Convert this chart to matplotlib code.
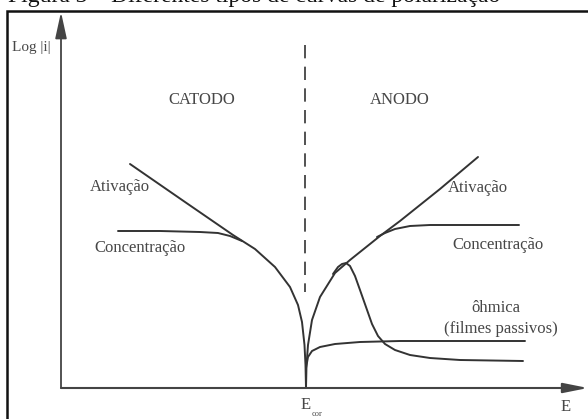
import numpy as np
import matplotlib.pyplot as plt
from matplotlib.patches import Rectangle

# potential E and log|i| in drawing units (origin = bottom-left of figure)
e_cat = [130, 185, 233, 255, 275, 290, 298, 302, 304.5, 305.5, 306]
logi_cat = [255, 217, 184, 170, 152, 132, 114, 97, 74, 54, 31]

e_cat_conc = [118, 160, 200, 218, 230, 242]
logi_cat_conc = [188, 188, 187, 186, 183, 178]

e_an = [306, 306.5, 308, 312, 320, 335, 350, 370, 380, 400, 440, 478]
logi_an = [31, 54, 74, 99, 122, 146, 159, 175, 183, 198, 230, 262]

e_an_conc = [377, 385, 395, 410, 430, 519]
logi_an_conc = [182, 186, 190, 193, 194, 194]

e_pass = [333, 338, 342, 346, 350, 355, 360, 366, 372, 378, 385, 395, 410, 430, 460, 523]
logi_pass = [145, 152, 155, 156, 153, 143, 129, 112, 95, 83, 75, 69, 64, 61, 59, 58]

e_ohm = [306, 308, 312, 320, 335, 360, 400, 525]
logi_ohm = [51, 62, 68, 72, 75, 77, 78, 78]

e_cor = 305
dash_top, dash_bottom = 374, 127

plt.rcParams['font.family'] = ['Liberation Serif', 'DejaVu Serif']

fig = plt.figure(figsize=(5.88, 4.19), dpi=100)
ax = fig.add_axes([0, 0, 1, 1])
ax.set_xlim(0, 588)
ax.set_ylim(0, 419)
ax.axis('off')

line_c = '#333333'
text_c = '#474747'

# frame and the caption cut by the top edge
ax.add_patch(Rectangle((7, -10), 600, 418, fill=False, lw=1.8, ec='#111111'))
ax.text(8, 416.5, 'Figura 3 – Diferentes tipos de curvas de polarização',
        fontsize=17, color='#111111', va='baseline', ha='left')

# axes with arrows
ax.annotate('', xy=(61, 407), xytext=(61, 31),
            arrowprops=dict(arrowstyle='-|>,head_length=1.6,head_width=0.35',
                            color='#444444', lw=1.3, shrinkA=0, shrinkB=0))
ax.annotate('', xy=(588, 31), xytext=(61, 31),
            arrowprops=dict(arrowstyle='-|>,head_length=1.5,head_width=0.3',
                            color='#444444', lw=1.5, shrinkA=0, shrinkB=0))

# E_cor dashed line
ax.plot([e_cor, e_cor], [dash_top, dash_bottom], color=line_c, lw=1.2,
        dashes=(8, 5))

kw = dict(color=line_c, lw=1.4, solid_capstyle='round', solid_joinstyle='round')
ax.plot(e_cat, logi_cat, **kw)
ax.plot(e_cat_conc, logi_cat_conc, **kw)
ax.plot(e_an, logi_an, **kw)
ax.plot(e_an_conc, logi_an_conc, **kw)
ax.plot(e_pass, logi_pass, **kw)
ax.plot(e_ohm, logi_ohm, **kw)

fs = 12
ax.text(31, 371, 'Log |i|', fontsize=11, color=text_c, ha='center', va='center')
ax.text(202, 319, 'CATODO', fontsize=fs, color=text_c, ha='center', va='center')
ax.text(400, 319, 'ANODO', fontsize=fs, color=text_c, ha='center', va='center')
ax.text(120, 232, 'Ativação', fontsize=fs, color=text_c, ha='center', va='center')
ax.text(478, 231, 'Ativação', fontsize=fs, color=text_c, ha='center', va='center')
ax.text(140, 171, 'Concentração', fontsize=fs, color=text_c, ha='center', va='center')
ax.text(498, 174, 'Concentração', fontsize=fs, color=text_c, ha='center', va='center')
ax.text(496, 111, 'ôhmica', fontsize=fs, color=text_c, ha='center', va='center')
ax.text(501, 90, '(filmes passivos)', fontsize=fs, color=text_c, ha='center', va='center')
ax.text(306, 14, 'E', fontsize=fs, color=text_c, ha='center', va='center')
ax.text(317, 5, 'cor', fontsize=6, color=text_c, ha='center', va='center')
ax.text(566, 12, 'E', fontsize=fs, color=text_c, ha='center', va='center')

fig.savefig('out.png', dpi=100)
